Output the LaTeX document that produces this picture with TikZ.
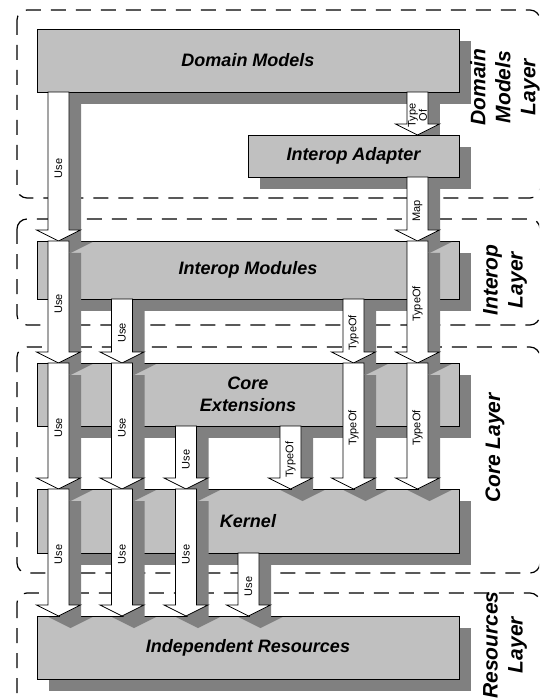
\documentclass[tikz,border=0pt]{standalone}
\usepackage{fontspec}
\setmainfont{Liberation Sans}
\usetikzlibrary{shadows,calc}
\definecolor{boxgray}{HTML}{C0C0C0}
\definecolor{shadowgray}{HTML}{808080}
\tikzset{
  box/.style={draw=black, line width=0.8pt, fill=boxgray, outer sep=0pt, inner sep=0pt,
    anchor=north west, align=center,
    font=\fontsize{18}{22}\selectfont\bfseries\itshape,
    drop shadow={shadow xshift=12pt, shadow yshift=-12pt, opacity=1, fill=shadowgray, draw=none}},
  arrwhite/.style={draw=black, line width=0.8pt, fill=white, line join=miter},
  lbl/.style={rotate=90, align=center, inner sep=0pt, font=\fontsize{11}{9}\selectfont},
  layerlbl/.style={rotate=90, align=center, inner sep=0pt, font=\fontsize{21}{25}\selectfont\bfseries\itshape},
  layerbox/.style={draw=black, line width=1.2pt, dash pattern=on 15pt off 10pt, rounded corners=10pt}
}
% #1 start, #2 tip, #3 label, #4 label name
\newcommand\barr[4]{%
  \fill[shadowgray] let \p1=(#1), \p2=(#2) in
    (\x1+1.5pt,\y1-12pt) -- (\x1+22.5pt,\y1-12pt) -- (\x1+22.5pt,\y2-1pt) -- (\x1+34pt,\y2-1pt)
    -- (\x1+12pt,\y2-12pt) -- (\x1-10pt,\y2-1pt) -- (\x1+1.5pt,\y2-1pt) -- cycle;
  \draw[arrwhite] let \p1=(#1), \p2=(#2) in
    (\x1-10.5pt,\y1) -- (\x1+10.5pt,\y1) -- (\x1+10.5pt,\y2+11pt) -- (\x1+22pt,\y2+11pt)
    -- (\x1,\y2) -- (\x1-22pt,\y2+11pt) -- (\x1-10.5pt,\y2+11pt) -- cycle;
  \node[lbl] (#4) at ($($(#1)!0.5!(#2)$)+(0,2)$) {#3};
}
\begin{document}
\begin{tikzpicture}[x=1pt,y=-1pt]
\useasboundingbox (0,0) rectangle (539,700);
\clip (0,0) rectangle (539,700);

% layer frames
\draw[layerbox] (17,10) rectangle (540,198);
\draw[layerbox] (17,219) rectangle (540,325);
\draw[layerbox] (17,347) rectangle (540,573);
\draw[layerbox] (17,593) rectangle (540,730);

% column positions
\coordinate (cA) at (58.5,0);
\coordinate (cB) at (122,0);
\coordinate (cC) at (186,0);
\coordinate (cD) at (248.5,0);
\coordinate (cE) at (290.5,0);
\coordinate (cF) at (353.5,0);
\coordinate (cG) at (417.5,0);

% boxes
\node[box, minimum width=422pt, minimum height=63pt] (dm) at (37,29) {Domain Models};
\node[box, minimum width=211pt, minimum height=42pt] (ia) at (248,135) {Interop Adapter};
\node[box, minimum width=422pt, minimum height=58pt] (imod) at (37,241) {Interop Modules};
\node[box, minimum width=422pt, minimum height=63pt] (ce) at (37,363) {Core\\Extensions};
\node[box, minimum width=422pt, minimum height=64pt] (ke) at (37,489) {Kernel};
\node[box, minimum width=422pt, minimum height=63pt] (ir) at (37,616) {Independent Resources};

% Type Of arrow (its head shadow is hidden under the adapter)
\fill[shadowgray] let \p1=(dm.south -| cG), \p2=(ia.north -| cG) in
  (\x1+1.5pt,\y1-12pt) rectangle (\x1+22.5pt,\y2);
\draw[arrwhite] let \p1=(dm.south -| cG), \p2=(ia.north -| cG) in
  (\x1-10.5pt,\y1) -- (\x1+10.5pt,\y1) -- (\x1+10.5pt,\y2+11pt) -- (\x1+22pt,\y2+11pt)
  -- (\x1,\y2) -- (\x1-22pt,\y2+11pt) -- (\x1-10.5pt,\y2+11pt) -- cycle;
\node[lbl] (tG0) at ($($(dm.south -| cG)!0.5!(ia.north -| cG)$)+(0,2)$) {Type\\Of};

% arrows
\barr{dm.south -| cA}{imod.north -| cA}{Use}{tA1}
\barr{imod.north -| cA}{ce.north -| cA}{Use}{tA2}
\barr{ce.north -| cA}{ke.north -| cA}{Use}{tA3}
\barr{ke.north -| cA}{ir.north -| cA}{Use}{tA4}
\barr{imod.south -| cB}{ce.north -| cB}{Use}{tB1}
\barr{ce.north -| cB}{ke.north -| cB}{Use}{tB2}
\barr{ke.north -| cB}{ir.north -| cB}{Use}{tB3}
\barr{ce.south -| cC}{ke.north -| cC}{Use}{tC1}
\barr{ke.north -| cC}{ir.north -| cC}{Use}{tC2}
\barr{ke.south -| cD}{ir.north -| cD}{Use}{tD1}
\barr{ce.south -| cE}{ke.north -| cE}{TypeOf}{tE1}
\barr{imod.south -| cF}{ce.north -| cF}{TypeOf}{tF1}
\barr{ce.north -| cF}{ke.north -| cF}{TypeOf}{tF2}
\barr{ia.south -| cG}{imod.north -| cG}{Map}{tG1}
\barr{imod.north -| cG}{ce.north -| cG}{TypeOf}{tG2}
\barr{ce.north -| cG}{ke.north -| cG}{TypeOf}{tG3}

% layer labels
\node[layerlbl] (lDM) at (505,87) {Domain\\Models\\Layer};
\node[layerlbl] (lIL) at (505,280) {Interop\\Layer};
\node[layerlbl] (lCL) at (495,448) {Core Layer};
\node[layerlbl] (lRL) at (505,645) {Resources\\Layer};
\end{tikzpicture}
\end{document}
